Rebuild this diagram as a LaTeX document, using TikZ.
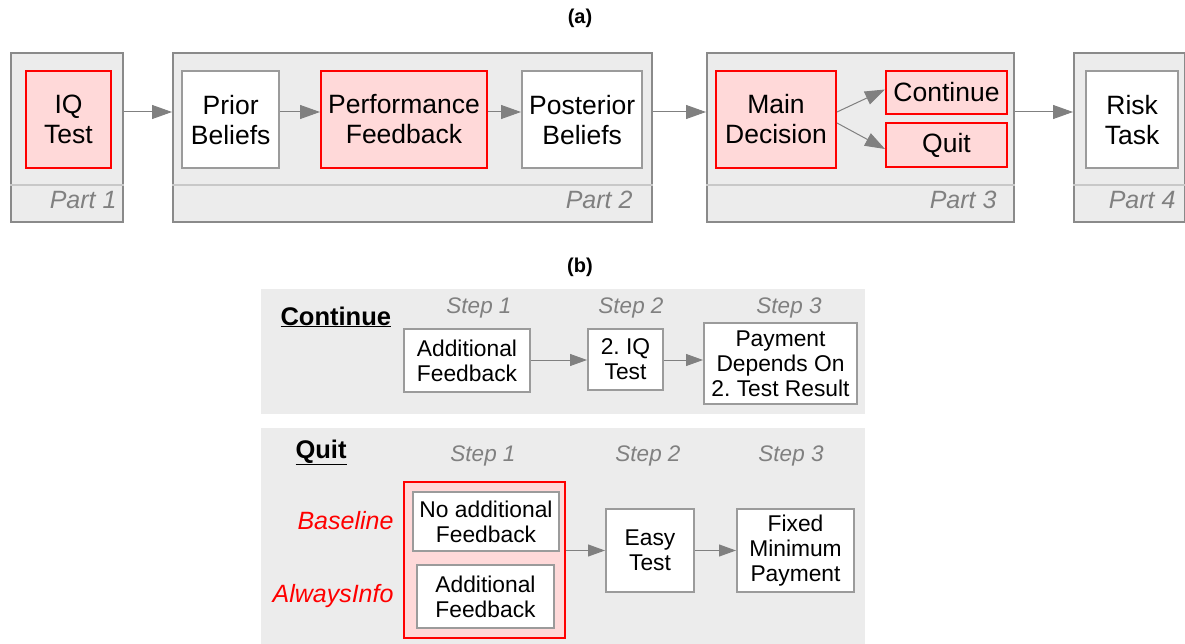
\documentclass[tikz,border=0pt]{standalone}
\usepackage{fontspec}
\setmainfont{Liberation Sans}
\usetikzlibrary{arrows.meta}
\frenchspacing

\definecolor{panelgray}{RGB}{236,236,236}
\definecolor{partgray}{RGB}{138,138,138}
\definecolor{boxgray}{RGB}{155,155,155}
\definecolor{divgray}{RGB}{200,200,200}
\definecolor{arrowgray}{RGB}{128,128,128}
\definecolor{keyred}{RGB}{255,217,217}

\tikzset{
  part/.style={draw=partgray, line width=2.2pt, fill=panelgray, anchor=north west, inner sep=0pt},
  panel/.style={fill=panelgray, anchor=north west, inner sep=0pt},
  stage/.style={draw=boxgray, line width=2.4pt, fill=white, align=center, inner sep=0pt,
    anchor=north west, font=\fontsize{26.5}{30}\selectfont},
  keystage/.style={stage, draw=red, line width=2pt, fill=keyred},
  substage/.style={stage, line width=2pt, font=\fontsize{22.8}{25}\selectfont},
  partlabel/.style={anchor=east, text=arrowgray, font=\fontsize{25}{28}\selectfont\itshape},
  steplabel/.style={text=arrowgray, font=\fontsize{22.5}{26}\selectfont\itshape},
  armlabel/.style={anchor=base east, text=red, font=\fontsize{25}{28}\selectfont\itshape},
  heading/.style={anchor=base west, font=\fontsize{25.5}{28}\selectfont\bfseries},
  divider/.style={draw=divgray, line width=1.2pt},
  flow/.style={draw=arrowgray, line width=1pt, -{Triangle[length=20pt,width=14pt]}},
  subflow/.style={draw=arrowgray, line width=1pt, -{Triangle[length=17pt,width=12pt]}}
}

\begin{document}
\begin{tikzpicture}[x=1pt, y=-1pt]
  \useasboundingbox (0,0) rectangle (1185,644);

  \node[font=\fontsize{20}{23}\selectfont\bfseries] (capa) at (580,18) {(a)};

  % the four parts
  \node[part, minimum width=112pt, minimum height=169pt] (part1) at (10,52) {};
  \node[part, minimum width=479pt, minimum height=169pt] (part2) at (172,52) {};
  \node[part, minimum width=307pt, minimum height=169pt] (part3) at (706,52) {};
  \node[part, minimum width=111pt, minimum height=169pt] (part4) at (1073,52) {};
  \foreach \p in {part1,part2,part3,part4}
    \draw[divider] (\p.west |- 0,185) -- (\p.east |- 0,185);

  \node[partlabel] (lbl1) at (120,200) {Part 1};
  \node[partlabel] (lbl2) at (636,200) {Part 2};
  \node[partlabel] (lbl3) at (1000,200) {Part 3};
  \node[partlabel] (lbl4) at (1179,200) {Part 4};

  \node[keystage, minimum width=85pt, minimum height=97pt] (iq) at (25,70) {IQ\\Test};
  \node[stage, minimum width=97pt, minimum height=97pt] (prior) at (181,70) {Prior\\Beliefs};
  \node[keystage, minimum width=166pt, minimum height=97pt] (perf) at (320,70) {Performance\\Feedback};
  \node[stage, minimum width=120pt, minimum height=97pt] (post) at (521,70) {Posterior\\Beliefs};
  \node[keystage, minimum width=120pt, minimum height=97pt] (main) at (715,70) {Main\\Decision};
  \node[keystage, minimum width=121pt, minimum height=43pt] (cont) at (885,70) {Continue};
  \node[keystage, minimum width=121pt, minimum height=44pt] (quit) at (885,122) {Quit};
  \node[stage, minimum width=92pt, minimum height=97pt] (risk) at (1085,70) {Risk\\Task};

  \draw[flow] (part1.east |- 0,112) -- (part2.west |- 0,112);
  \draw[flow] (prior.east |- 0,112) -- (perf.west |- 0,112);
  \draw[flow] (perf.east |- 0,112) -- (post.west |- 0,112);
  \draw[flow] (part2.east |- 0,112) -- (part3.west |- 0,112);
  \draw[flow] (main.east |- 0,112) -- ([yshift=3pt]cont.west);
  \draw[flow] (main.east |- 0,123) -- ([yshift=-4pt]quit.west);
  \draw[flow] (part3.east |- 0,112) -- (part4.west |- 0,112);

  \node[font=\fontsize{20}{23}\selectfont\bfseries] (capb) at (580,267) {(b)};

  % continue branch
  \node[panel, minimum width=604pt, minimum height=125pt] (contpanel) at (261,289) {};
  \node[heading] (conthead) at (277,325) {\underline{Continue}};
  \node[steplabel] (cstep1) at (479,308) {Step 1};
  \node[steplabel] (cstep2) at (631,308) {Step 2};
  \node[steplabel] (cstep3) at (789,308) {Step 3};
  \node[substage, minimum width=126pt, minimum height=63pt] (addfb) at (403,328) {Additional\\Feedback};
  \node[substage, minimum width=75pt, minimum height=61pt] (iqtwo) at (587,328) {2. IQ\\Test};
  \node[substage, minimum width=153pt, minimum height=81pt] (pay) at (703,322) {Payment\\Depends On\\2. Test Result};
  \draw[subflow] (addfb.east |- 0,360) -- (iqtwo.west |- 0,360);
  \draw[subflow] (iqtwo.east |- 0,360) -- (pay.west |- 0,360);

  % quit branch
  \node[panel, minimum width=604pt, minimum height=218pt] (quitpanel) at (261,428) {};
  \node[heading] (quithead) at (292,458) {\underline{Quit}};
  \node[steplabel] (qstep1) at (483,456) {Step 1};
  \node[steplabel] (qstep2) at (648,456) {Step 2};
  \node[steplabel] (qstep3) at (791,456) {Step 3};
  \node[armlabel] (base) at (397,529) {Baseline};
  \node[armlabel] (always) at (397,602) {AlwaysInfo};
  \node[keystage, minimum width=161pt, minimum height=156pt] (redgrp) at (403,481) {};
  \node[substage, minimum width=146pt, minimum height=59pt] (noadd) at (412,491) {No additional\\Feedback};
  \node[substage, minimum width=137pt, minimum height=63pt] (alwfb) at (416,564) {Additional\\Feedback};
  \node[substage, minimum width=88pt, minimum height=83pt] (easy) at (605,508) {Easy\\Test};
  \node[substage, minimum width=117pt, minimum height=83pt] (fixed) at (736,508) {Fixed\\Minimum\\Payment};
  \draw[subflow] (redgrp.east |- easy.west) -- (easy.west);
  \draw[subflow] (easy.east) -- (fixed.west);
\end{tikzpicture}
\end{document}
